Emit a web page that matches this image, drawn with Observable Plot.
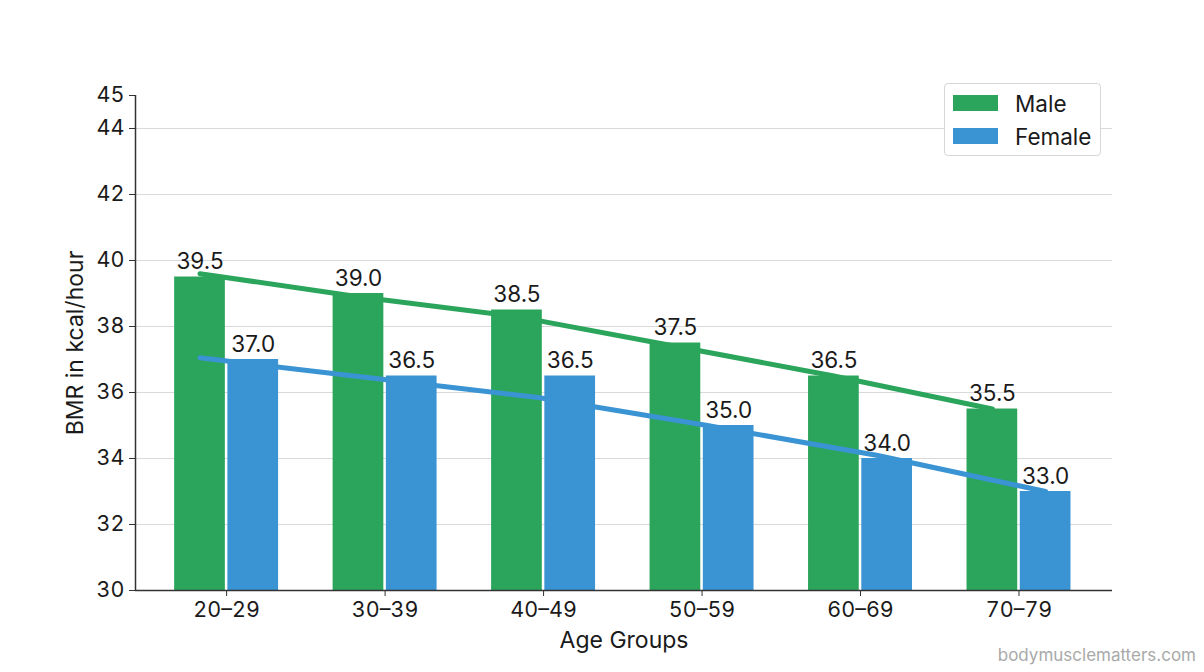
<!DOCTYPE html>
<html>
<head>
<meta charset="utf-8">
<script src="https://cdn.jsdelivr.net/npm/d3@7"></script>
<script src="https://cdn.jsdelivr.net/npm/@observablehq/plot@0.6"></script>
<style>
  html, body { margin: 0; padding: 0; background: #ffffff; }
  #wrap { position: relative; width: 1204px; height: 672px; font-family: Inter, "DejaVu Sans", sans-serif; }
  #wrap svg { position: absolute; left: 0; top: 0; }
  .legend { position: absolute; left: 944px; top: 83px; width: 157px; height: 73px; box-sizing: border-box;
            border: 1px solid #d6d6d6; border-radius: 4px; background: #ffffff; }
  .legend .row { position: absolute; left: 8px; height: 20px; display: flex; align-items: center; }
  .legend .sw { width: 45px; height: 16px; margin-right: 17px; }
  .legend .lbl { font-size: 22.5px; color: #1a1a1a; }
  .credit { position: absolute; right: 8px; top: 645px; font-size: 17px; color: #a9a9a9; }
</style>
</head>
<body>
<div id="wrap"></div>
<script>
// ---- data ----
const groups = ["20–29", "30–39", "40–49", "50–59", "60–69", "70–79"];
const male = [39.5, 39.0, 38.5, 37.5, 36.5, 35.5];
const female = [37.0, 36.5, 36.5, 35.0, 34.0, 33.0];
const maleTrend = [39.6, 38.9, 38.3, 37.4, 36.5, 35.5];
const femaleTrend = [37.05, 36.45, 35.85, 35.0, 34.1, 33.0];
const yTicks = [30, 32, 34, 36, 38, 40, 42, 44, 45];
const gridTicks = [32, 34, 36, 38, 40, 42, 44];
const seriesNames = ["Male", "Female"];

// ---- styling / layout ----
const green = "#2ca55c";
const blue = "#3a93d3";
const ink = "#1a1a1a";
const xDomain = [-0.575, 5.59];
const barW = 0.32, gap = 0.008;
const mc = -(gap + barW / 2), fc = gap + barW / 2;

const rows = groups.map((g, i) => ({ i, g, male: male[i], female: female[i] }));
const mTrend = maleTrend.map((v, i) => ({ pos: i + mc, v }));
const fStep = (groups.length - 1 + fc - mc) / (groups.length - 1);
const fTrend = femaleTrend.map((v, i) => ({ pos: mc + i * fStep, v }));

const chart = Plot.plot({
  width: 1204,
  height: 672,
  marginTop: 95,
  marginBottom: 82,
  marginLeft: 135,
  marginRight: 92,
  style: { fontFamily: "Inter, 'DejaVu Sans', sans-serif", fontSize: "21.5px", color: ink, background: "transparent" },
  x: { domain: xDomain },
  y: { domain: [30, 45] },
  marks: [
    Plot.ruleY(gridTicks, { stroke: "#d9d9d9", strokeWidth: 1.2 }),
    Plot.rectY(rows, { x1: d => d.i - gap - barW, x2: d => d.i - gap, y1: 30, y2: "male", fill: green }),
    Plot.rectY(rows, { x1: d => d.i + gap, x2: d => d.i + gap + barW, y1: 30, y2: "female", fill: blue }),
    Plot.line(mTrend, { x: "pos", y: "v", stroke: green, strokeWidth: 5 }),
    Plot.line(fTrend, { x: "pos", y: "v", stroke: blue, strokeWidth: 5 }),
    Plot.text(rows, { x: d => d.i + mc, y: "male", text: d => d.male.toFixed(1), dy: -8, lineAnchor: "bottom", fontSize: 22.5, fill: ink }),
    Plot.text(rows, { x: d => d.i + fc, y: "female", text: d => d.female.toFixed(1), dy: -8, lineAnchor: "bottom", fontSize: 22.5, fill: ink }),
    Plot.ruleX([xDomain[0]], { stroke: "#333", strokeWidth: 1.5 }),
    Plot.ruleY([30], { stroke: "#333", strokeWidth: 1.5 }),
    Plot.axisY({ ticks: yTicks, tickSize: 6, tickPadding: 5, fontSize: 21.5, stroke: "#333",
                 label: "BMR in kcal/hour", labelAnchor: "center", labelArrow: "none", labelOffset: 69 }),
    Plot.axisX({ ticks: d3.range(groups.length), tickFormat: i => groups[i], tickSize: 6, tickPadding: 5, fontSize: 21.5, stroke: "#333",
                 label: "Age Groups", labelAnchor: "center", labelArrow: "none", labelOffset: 57 })
  ]
});

// enlarge axis titles a little
chart.querySelectorAll("[aria-label='y-axis label'] text, [aria-label='x-axis label'] text").forEach(t => t.setAttribute("font-size", "23"));

const wrap = document.getElementById("wrap");
wrap.appendChild(chart);

const legend = document.createElement("div");
legend.className = "legend";
[green, blue].forEach((c, k) => {
  const row = document.createElement("div");
  row.className = "row";
  row.style.top = (k === 0 ? 9 : 42) + "px";
  const sw = document.createElement("div");
  sw.className = "sw";
  sw.style.background = c;
  const lbl = document.createElement("span");
  lbl.className = "lbl";
  lbl.textContent = seriesNames[k];
  row.appendChild(sw);
  row.appendChild(lbl);
  legend.appendChild(row);
});
wrap.appendChild(legend);

const credit = document.createElement("div");
credit.className = "credit";
credit.textContent = "bodymusclematters.com";
wrap.appendChild(credit);
</script>
</body>
</html>
